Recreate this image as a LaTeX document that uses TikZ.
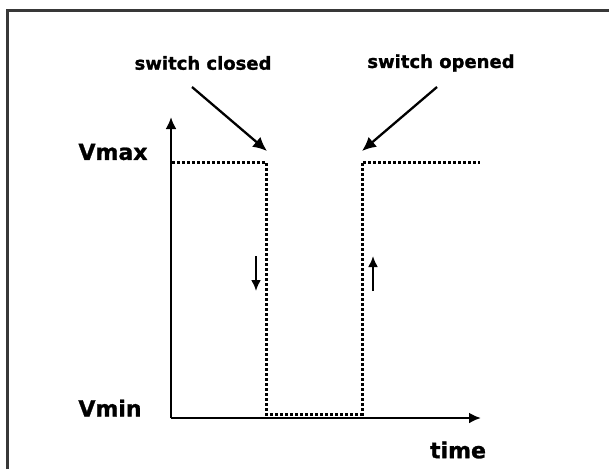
\documentclass[tikz,border=0pt]{standalone}
\usepackage{fontspec}
\setmainfont{DejaVu Sans}
\newfontfamily\lblfont{DejaVu Sans Bold}[FakeBold=1.2]
\usetikzlibrary{arrows.meta}
\begin{document}
\begin{tikzpicture}[x=1pt,y=-1pt,
  lbl/.style={font=\lblfont\fontsize{18}{20}\selectfont, inner sep=0pt},
  biglbl/.style={font=\lblfont\fontsize{22}{24}\selectfont, inner sep=0pt},
  axis/.style={line width=2.6pt, -{Latex[length=12pt,width=11pt]}},
  pointer/.style={line width=2.3pt, -{Latex[length=14pt,width=13pt]}},
  smallarr/.style={line width=2.1pt, -{Latex[length=11pt,width=10pt]}},
  wave/.style={line width=3pt, dash pattern=on 2.8pt off 2.2pt},
  frame/.style={line width=3pt, draw=black!78}]
\useasboundingbox (0,0) rectangle (609,469);
% frame
\draw[frame] (7.5,469) -- (7.5,10.5) -- (609,10.5);
% labels
\node[lbl] (closed) at (203,63) {switch closed};
\node[lbl] (opened) at (441,63) {switch opened};
\node[biglbl] (vmax) at (113,152) {Vmax};
\node[biglbl] (vmin) at (110,408) {Vmin};
\node[biglbl] (time) at (458,450) {time};
% axes
\coordinate (origin) at (171,418);
\coordinate (ytip) at (171,117);
\coordinate (xtip) at (481,418);
\draw[axis] (origin) -- (ytip);
\draw[axis] (origin) -- (xtip);
% waveform corners
\coordinate (w0) at (172,162);
\coordinate (w1) at (266,162);
\coordinate (w2) at (266,414);
\coordinate (w3) at (362,414);
\coordinate (w4) at (362,162);
\coordinate (w5) at (480,162);
\draw[wave] (w0) -- (w1) -- (w2) -- (w3) -- (w4) -- (w5);
% pointers
\coordinate (c0) at (192,87);
\coordinate (c1) at (267,151);
\coordinate (o0) at (437,87);
\coordinate (o1) at (362,151);
\draw[pointer] (c0) -- (c1);
\draw[pointer] (o0) -- (o1);
% small direction arrows
\coordinate (d0) at (256,256);
\coordinate (d1) at (256,291);
\coordinate (u0) at (373,291);
\coordinate (u1) at (373,256);
\draw[smallarr] (d0) -- (d1);
\draw[smallarr] (u0) -- (u1);
\end{tikzpicture}
\end{document}
